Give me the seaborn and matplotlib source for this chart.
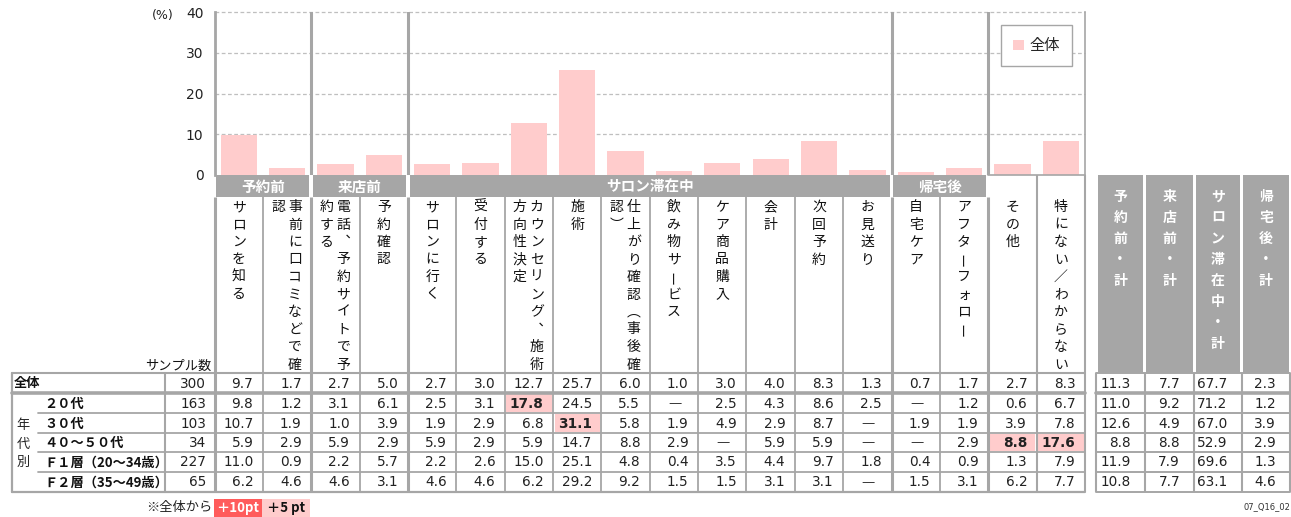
import numpy as np
import pandas as pd
import matplotlib
matplotlib.use("Agg")
import matplotlib.pyplot as plt
import seaborn as sns
from matplotlib.patches import Rectangle, Patch

sns.set_theme(style="white")
plt.rcParams["font.family"] = ["DejaVu Sans", "Noto Sans CJK JP"]
JP = ["Noto Sans CJK JP", "DejaVu Sans"]

# ---------------------------------------------------------------------------
# data
# ---------------------------------------------------------------------------
items = ["サロンを知る", "事前に口コミなどで確認", "電話、予約サイトで予約する", "予約確認",
         "サロンに行く", "受付する", "カウンセリング、施術方向性決定", "施術",
         "仕上がり確認（事後確認）", "飲み物サービス", "ケア商品購入", "会計",
         "次回予約", "お見送り", "自宅ケア", "アフターフォロー", "その他",
         "特にない／わからない"]
groups = [("予約前", 0, 2), ("来店前", 2, 4), ("サロン滞在中", 4, 14), ("帰宅後", 14, 16)]

row_labels = ["全体", "２０代", "３０代", "４０～５０代", "Ｆ１層（20～34歳）", "Ｆ２層（35～49歳）"]
samples = [300, 163, 103, 34, 227, 65]

overall = [9.7, 1.7, 2.7, 5.0, 2.7, 3.0, 12.7, 25.7, 6.0, 1.0, 3.0, 4.0, 8.3, 1.3, 0.7, 1.7, 2.7, 8.3]
age20 = [9.8, 1.2, 3.1, 6.1, 2.5, 3.1, 17.8, 24.5, 5.5, None, 2.5, 4.3, 8.6, 2.5, None, 1.2, 0.6, 6.7]
age30 = [10.7, 1.9, 1.0, 3.9, 1.9, 2.9, 6.8, 31.1, 5.8, 1.9, 4.9, 2.9, 8.7, None, 1.9, 1.9, 3.9, 7.8]
age40 = [5.9, 2.9, 5.9, 2.9, 5.9, 2.9, 5.9, 14.7, 8.8, 2.9, None, 5.9, 5.9, None, None, 2.9, 8.8, 17.6]
f1 = [11.0, 0.9, 2.2, 5.7, 2.2, 2.6, 15.0, 25.1, 4.8, 0.4, 3.5, 4.4, 9.7, 1.8, 0.4, 0.9, 1.3, 7.9]
f2 = [6.2, 4.6, 4.6, 3.1, 4.6, 4.6, 6.2, 29.2, 9.2, 1.5, 1.5, 3.1, 3.1, None, 1.5, 3.1, 6.2, 7.7]
table_rows = [overall, age20, age30, age40, f1, f2]

sum_labels = ["予約前・計", "来店前・計", "サロン滞在中・計", "帰宅後・計"]
sum_rows = [[11.3, 7.7, 67.7, 2.3],
            [11.0, 9.2, 71.2, 1.2],
            [12.6, 4.9, 67.0, 3.9],
            [8.8, 8.8, 52.9, 2.9],
            [11.9, 7.9, 69.6, 1.3],
            [10.8, 7.7, 63.1, 4.6]]

PINK = "#FFCCCC"
RED = "#FF5B5B"
GRAY = "#A6A6A6"

# ---------------------------------------------------------------------------
# layout (pixels)
# ---------------------------------------------------------------------------
W, H = 1291, 517
x0, x1 = 214.5, 1085
cw = (x1 - x0) / 18
y_top, y_base = 12, 175
band_bot = 197
head_bot = 373
row_y = [373, 393, 413, 433, 452, 472, 492]
sum_x = [1096, 1144.5, 1194, 1241.5, 1290]

# vertical writing forms
VFORM = {"、": "︑", "（": "︵", "）": "︶"}


def colx(i):
    return x0 + i * cw


fig = plt.figure(figsize=(W / 100, H / 100), dpi=100)
ax = fig.add_axes([x0 / W, 1 - y_base / H, (x1 - x0) / W, (y_base - y_top) / H])
tb = fig.add_axes([0, 0, 1, 1])
tb.set_xlim(0, W)
tb.set_ylim(H, 0)
tb.axis("off")
tb.patch.set_alpha(0)

# ---------------------------------------------------------------------------
# bar chart
# ---------------------------------------------------------------------------
df = pd.DataFrame({"項目": items, "全体": overall})
sns.barplot(data=df, x="項目", y="全体", color=PINK, saturation=1, width=0.75,
            linewidth=0, ax=ax, zorder=2)
ax.set_xlim(-0.5, 17.5)
ax.set_ylim(0, 40)
ax.set_xlabel("")
ax.set_ylabel("")
ax.set_xticks([])
ax.set_xticks(np.arange(0.5, 17, 1), minor=True)
ax.tick_params(axis="x", which="minor", direction="in", length=3, color=GRAY,
               width=0.8, labelbottom=False)
ax.set_yticks([0, 10, 20, 30, 40])
ax.tick_params(axis="y", length=0, pad=8, labelsize=10, labelcolor="#222222")
for v in [10, 20, 30, 40]:
    ax.axhline(v, color="#BFBFBF", lw=0.9, ls=(0, (3, 2)), zorder=0.5, clip_on=False)
for s in ["top", "bottom"]:
    ax.spines[s].set_visible(False)
ax.spines["left"].set_color(GRAY)
ax.spines["left"].set_linewidth(2)
ax.spines["right"].set_color(GRAY)
ax.spines["right"].set_linewidth(1.2)
for b in [1.5, 3.5, 13.5, 15.5]:
    ax.axvline(b, color=GRAY, lw=2.2, zorder=3)
leg = ax.legend(handles=[Patch(facecolor=PINK, edgecolor="none", label="全体")],
                loc="upper right", bbox_to_anchor=(0.985, 0.92), borderaxespad=0,
                frameon=True, fancybox=False, framealpha=1, edgecolor=GRAY,
                borderpad=0.8, handlelength=0.7, handleheight=0.7,
                handletextpad=0.35, prop={"family": JP, "size": 11})
leg.set_zorder(5)
leg.get_frame().set_linewidth(1.0)
tb.text(163, 16, "(%)", ha="center", va="center", fontsize=9, color="#222222")


# ---------------------------------------------------------------------------
# table
# ---------------------------------------------------------------------------
def vtext(x, ytop, s, step, **kw):
    for k, ch in enumerate(s):
        rot = 90 if ch == "ー" else 0
        tb.text(x, ytop + k * step, VFORM.get(ch, ch), rotation=rot,
                ha="center", va="center", **kw)


# group header bands
for name, s, e in groups:
    tb.add_patch(Rectangle((colx(s) + 1.8, y_base), colx(e) - colx(s) - 3.6,
                           band_bot - y_base, facecolor=GRAY, edgecolor="none"))
    tb.text((colx(s) + colx(e)) / 2, (y_base + band_bot) / 2 + 0.5, name, ha="center",
            va="center", color="white", fontsize=10.5, fontweight="bold", family=JP)
tb.plot([colx(16), colx(18)], [y_base, y_base], color=GRAY, lw=1.2)

# column header texts (vertical, wrapped at 10 chars, right to left)
for i, name in enumerate(items):
    cx = colx(i) + cw / 2
    chunks = [name[k:k + 10] for k in range(0, len(name), 10)]
    if len(chunks) == 1:
        xs = [cx]
    else:
        xs = [cx + 8, cx - 9]
    for xx, ch in zip(xs, chunks):
        vtext(xx, 207, ch, 17.5, fontsize=10, color="#111111", family=JP)

# vertical grid lines of main table
for i in range(19):
    xx = colx(i)
    if i in (0, 2, 4, 14, 16):
        tb.plot([xx, xx], [band_bot, row_y[-1]], color=GRAY, lw=2.2, solid_capstyle="butt")
    elif i in (17, 18):
        tb.plot([xx, xx], [y_base, row_y[-1]], color=GRAY, lw=1.5, solid_capstyle="butt")
    else:
        tb.plot([xx, xx], [band_bot, row_y[-1]], color=GRAY, lw=1.3, solid_capstyle="butt")

# horizontal lines
tb.plot([12, x1], [row_y[0], row_y[0]], color=GRAY, lw=1.5)
tb.plot([12, x1], [row_y[1], row_y[1]], color=GRAY, lw=2.6)
for y in row_y[2:-1]:
    tb.plot([38, x1], [y, y], color=GRAY, lw=1.3)
tb.plot([12, x1], [row_y[-1], row_y[-1]], color=GRAY, lw=1.6)
tb.plot([12, 12], [row_y[0], row_y[-1]], color=GRAY, lw=1.6)
tb.plot([165, 165], [row_y[0], row_y[-1]], color=GRAY, lw=1.5)

tb.text(211, 366, "サンプル数", ha="right", va="center", fontsize=9.5, family=JP,
        color="#111111")
vtext(23, 426, "年代別", 18, fontsize=9.5, color="#222222", family=JP)

# rows
for r, (lab, n, vals) in enumerate(zip(row_labels, samples, table_rows)):
    yc = (row_y[r] + row_y[r + 1]) / 2 + 0.5
    lx = 14 if r == 0 else 44
    tb.text(lx, yc, lab, ha="left", va="center", fontsize=9.5, fontweight="bold",
            family=JP, color="#111111")
    tb.text(206, yc, f"{n}", ha="right", va="center", fontsize=9.8, color="#222222")
    for i, v in enumerate(vals):
        cx = colx(i) + cw / 2
        if v is None:
            tb.text(cx + 1, yc, "—", ha="center", va="center", fontsize=9.5, color="#333333")
            continue
        weight = "normal"
        if r > 0:
            diff = v - overall[i]
            if diff >= 5:
                weight = "bold"
                tb.add_patch(Rectangle((colx(i) + 1.5, row_y[r] + 1.2), cw - 3,
                                       row_y[r + 1] - row_y[r] - 2.4,
                                       facecolor=RED if diff >= 10 else PINK,
                                       edgecolor="none", zorder=0))
        tb.text(colx(i + 1) - 9.5, yc, f"{v:.1f}", ha="right", va="center",
                fontsize=9.8, color="#222222", fontweight=weight)

# summary table
for j, lab in enumerate(sum_labels):
    a, b = sum_x[j], sum_x[j + 1]
    tb.add_patch(Rectangle((a + 1.5, y_base), b - a - 3, head_bot - y_base,
                           facecolor=GRAY, edgecolor="none"))
    vtext((a + b) / 2, 197, lab, 21, fontsize=10, color="white", fontweight="bold",
          family=JP)
for xx in sum_x:
    tb.plot([xx, xx], [row_y[0], row_y[-1]], color=GRAY, lw=1.5, solid_capstyle="butt")
for k, y in enumerate(row_y):
    tb.plot([sum_x[0], sum_x[-1]], [y, y], color=GRAY, lw=2.6 if k == 1 else 1.4)
for r, vals in enumerate(sum_rows):
    yc = (row_y[r] + row_y[r + 1]) / 2 + 0.5
    for j, v in enumerate(vals):
        tb.text(sum_x[j + 1] - 14, yc, f"{v:.1f}", ha="right", va="center",
                fontsize=9.8, color="#222222")

# footnote
tb.text(212, 508, "※全体から", ha="right", va="center", fontsize=9.5, family=JP,
        color="#222222")
tb.add_patch(Rectangle((214, 499), 48, 18, facecolor=RED, edgecolor="none"))
tb.text(238, 508, "＋10pt", ha="center", va="center", fontsize=9.5, color="white",
        fontweight="bold", family=JP)
tb.add_patch(Rectangle((262, 499), 48, 18, facecolor=PINK, edgecolor="none"))
tb.text(286, 508, "＋5 pt", ha="center", va="center", fontsize=9.5, color="#111111",
        fontweight="bold", family=JP)
tb.text(1244, 507, "07_Q16_02", ha="left", va="center", fontsize=6, color="#333333")

fig.savefig("out.png", dpi=100, facecolor="white")
